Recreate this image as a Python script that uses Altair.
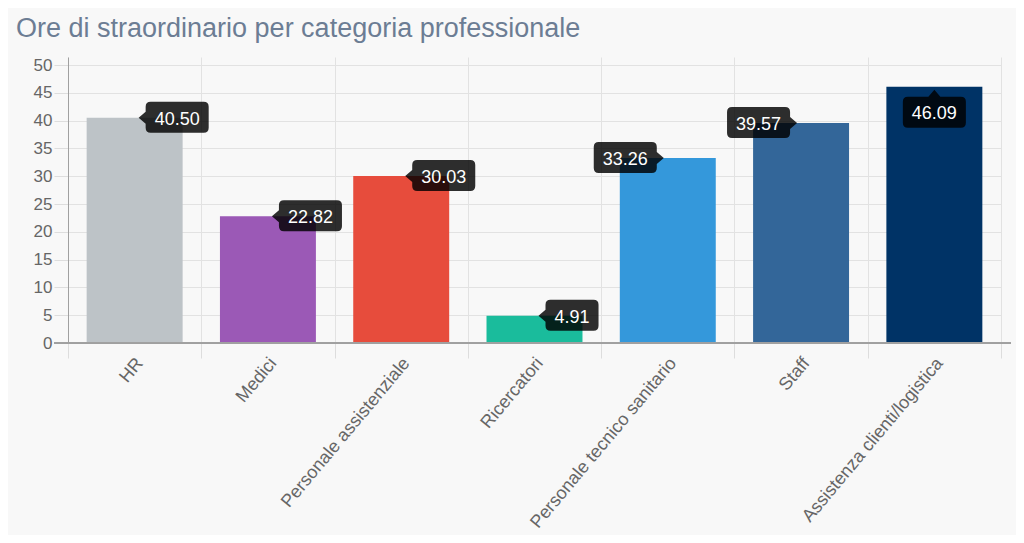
import altair as alt
import pandas as pd

categories = [
    "HR",
    "Medici",
    "Personale assistenziale",
    "Ricercatori",
    "Personale tecnico sanitario",
    "Staff",
    "Assistenza clienti/logistica",
]
hours = [40.50, 22.82, 30.03, 4.91, 33.26, 39.57, 46.09]
bar_colors = ["#bdc3c7", "#9b59b6", "#e74c3c", "#1abc9c", "#3498db", "#336699", "#003366"]
label_side = ["right", "right", "right", "right", "left", "left", "below"]

FONT = "Liberation Sans"
TIP_FONT = 18


def text_width(s, size=TIP_FONT):
    w = 0.0
    for ch in s:
        w += 0.278 if ch == "." else 0.556
    return w * size


def box_path(side, w):
    r = 5
    if side == "below":
        x0, x1, yt, yb = -w / 2, w / 2, 10, 41
        return (f"M0,3 L6,{yt} L{x1 - r},{yt} Q{x1},{yt} {x1},{yt + r} L{x1},{yb - r} "
                f"Q{x1},{yb} {x1 - r},{yb} L{x0 + r},{yb} Q{x0},{yb} {x0},{yb - r} "
                f"L{x0},{yt + r} Q{x0},{yt} {x0 + r},{yt} L-6,{yt} Z")
    s = 1 if side == "right" else -1
    x0 = s * 11
    x1 = s * (11 + w)
    yt, yb = -16, 15
    rr = s * r
    return (f"M{s * 4},0 L{x0},-6 L{x0},{yt + r} Q{x0},{yt} {x0 + rr},{yt} L{x1 - rr},{yt} "
            f"Q{x1},{yt} {x1},{yt + r} L{x1},{yb - r} Q{x1},{yb} {x1 - rr},{yb} "
            f"L{x0 + rr},{yb} Q{x0},{yb} {x0},{yb - r} L{x0},6 Z")


labels = [f"{v:.2f}" for v in hours]
paths = [box_path(sd, text_width(lb) + 18) for sd, lb in zip(label_side, labels)]

df = pd.DataFrame({
    "category": categories,
    "hours": hours,
    "label": labels,
    "side": label_side,
    "path": paths,
})

x_enc = alt.X(
    "category:N",
    sort=categories,
    title=None,
    scale=alt.Scale(paddingInner=0, paddingOuter=0),
    axis=alt.Axis(
        labelAngle=-50,
        labelAlign="right",
        labelBaseline="middle",
        labelLimit=0,
        tickBand="extent",
        tickSize=15,
        tickColor="#dddddd",
        domain=False,
        grid=True,
        gridColor="#e2e2e2",
        labelFont=FONT,
        labelFontSize=18,
        labelColor="#666666",
        labelPadding=2,
        labelOffset=5,
    ),
)
y_scale = alt.Scale(domain=[0, 51.45], nice=False, zero=True)
y_axis = alt.Axis(
    values=list(range(0, 51, 5)),
    tickSize=14,
    tickColor="#dddddd",
    domainColor="#a0a0a0",
    gridColor="#e2e2e2",
    labelFont=FONT,
    labelFontSize=17,
    labelColor="#666666",
    labelPadding=2,
    labelOverlap=False,
)
y_enc = alt.Y("hours:Q", title=None, scale=y_scale, axis=y_axis)

base = alt.Chart(df)

bars = base.mark_bar(width=alt.RelativeBandSize(0.72)).encode(
    x=x_enc,
    y=y_enc,
    color=alt.Color("category:N", scale=alt.Scale(domain=categories, range=bar_colors), legend=None),
)

axis_line = base.mark_rule(color="#a0a0a0", strokeWidth=1).encode(
    x=alt.value(-14), x2=alt.value(943),
    y=alt.YDatum(0, title=None, scale=y_scale, axis=y_axis),
)

boxes = base.mark_point(filled=True, size=4, opacity=0.82, color="#000000", strokeWidth=0).encode(
    x=x_enc,
    y=y_enc,
    shape=alt.Shape("path:N", scale=None),
)

txt_right = base.transform_filter(alt.datum.side == "right").mark_text(
    align="left", baseline="alphabetic", dx=20, dy=7, font=FONT, fontSize=TIP_FONT, color="white"
).encode(x=x_enc, y=y_enc, text="label:N")

txt_left = base.transform_filter(alt.datum.side == "left").mark_text(
    align="right", baseline="alphabetic", dx=-20, dy=7, font=FONT, fontSize=TIP_FONT, color="white"
).encode(x=x_enc, y=y_enc, text="label:N")

txt_below = base.transform_filter(alt.datum.side == "below").mark_text(
    align="center", baseline="alphabetic", dx=0, dy=32, font=FONT, fontSize=TIP_FONT, color="white"
).encode(x=x_enc, y=y_enc, text="label:N")

chart = alt.layer(bars, axis_line, boxes, txt_right, txt_left, txt_below).properties(
    width=933,
    height=286,
    autosize=alt.AutoSizeParams(type="none"),
    padding={"left": 60, "top": 49, "right": 15, "bottom": 192},
    title=alt.Title(
        "Ore di straordinario per categoria professionale",
        anchor="start",
        frame="group",
        dx=-52,
        dy=30,
        offset=22,
        baseline="alphabetic",
        font=FONT,
        fontSize=27,
        fontWeight="normal",
        color="#6c7d94",
    ),
).configure(background="#f8f8f8").configure_view(stroke=None)

chart.save("out.html", embed_options={"renderer": "svg", "actions": False})
